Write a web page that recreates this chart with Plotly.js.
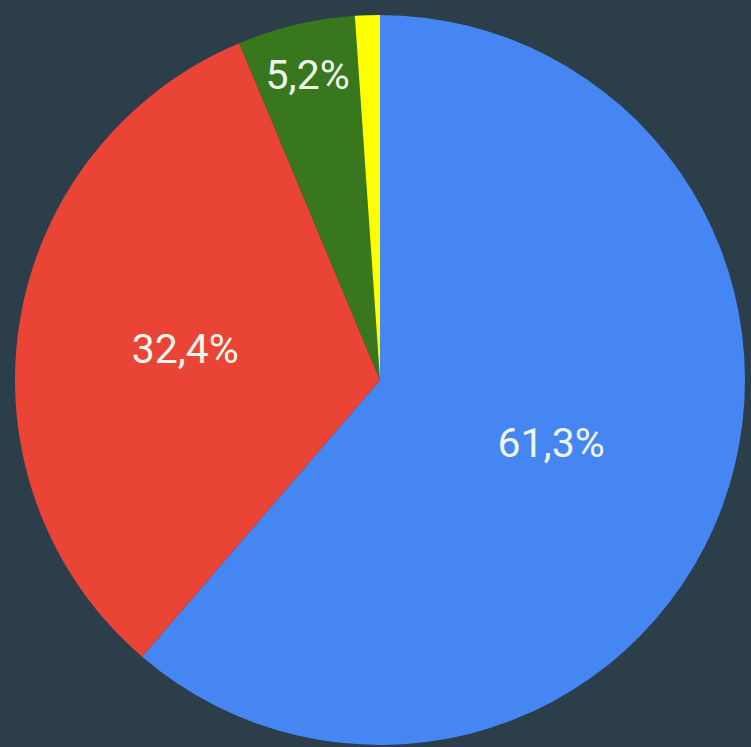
<!DOCTYPE html>
<html>
<head>
<meta charset="utf-8">
<script src="https://cdn.plot.ly/plotly-3.0.1.min.js"></script>
<style>
html, body { margin: 0; padding: 0; background: #2c3e4a; overflow: hidden; }
#chart { width: 751px; height: 747px; }
</style>
</head>
<body>
<div id="chart"></div>
<script>
const categories = ["A", "B", "C", "D"];
const values = [61.3, 32.4, 5.2, 1.1];
const sliceLabels = ["61,3%", "32,4%", "5,2%", ""];
const colors = ["#4686f2", "#e94435", "#39771e", "#ffff00"];

const trace = {
  type: "pie",
  labels: categories,
  values: values,
  text: sliceLabels,
  textinfo: "text",
  textposition: "inside",
  insidetextorientation: "horizontal",
  sort: false,
  direction: "clockwise",
  rotation: 0,
  marker: { colors: colors, line: { width: 0 } },
  textfont: { family: "Roboto, 'Open Sans', sans-serif", size: 41, color: "#eef5ea" },
  hoverinfo: "none"
};

const layout = {
  width: 751,
  height: 747,
  margin: { l: 15, r: 6, t: 15, b: 2 },
  paper_bgcolor: "#2c3e4a",
  plot_bgcolor: "#2c3e4a",
  showlegend: false
};

Plotly.newPlot("chart", [trace], layout, { displayModeBar: false, staticPlot: true });
</script>
</body>
</html>
